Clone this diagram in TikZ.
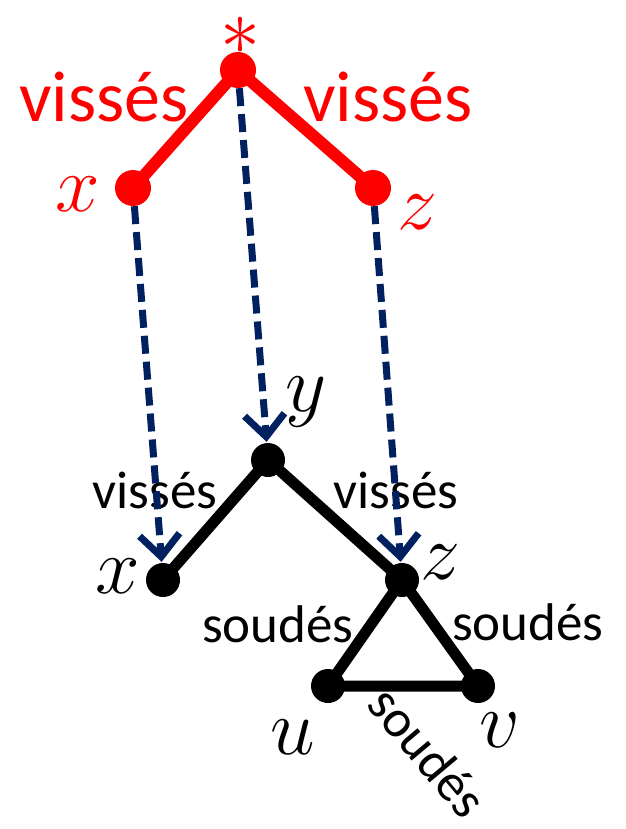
\RequirePackage{fix-cm}
\documentclass[tikz,border=0pt]{standalone}
\usepackage{fontspec}
\setmainfont{Carlito}
\usetikzlibrary{arrows.meta,positioning}
\definecolor{treeRed}{HTML}{FF0000}
\definecolor{mapNavy}{HTML}{002060}
\tikzset{
  redDot/.style={
    circle,
    fill=treeRed,
    inner sep=0pt,
    minimum size=36pt
  },
  blackDot/.style={
    circle,
    fill=black,
    inner sep=0pt,
    minimum size=34pt
  },
  redEdge/.style={
    line width=12pt,
    draw=treeRed
  },
  blackEdge/.style={
    line width=11pt,
    draw=black
  },
  mapArrow/.style={
    draw=mapNavy,
    line width=7pt,
    dash pattern=on 18pt off 8pt,
    -{Straight Barb[length=22pt,width=40pt,line width=7pt]},
    shorten >=1pt
  },
  bigLabel/.style={
    text=treeRed,
    inner sep=0pt,
    font=\fontsize{72}{72}\selectfont
  },
  edgeLabel/.style={
    inner sep=0pt,
    font=\fontsize{53}{53}\selectfont
  },
  varLabel/.style={
    inner sep=0pt,
    font=\fontsize{80}{80}\selectfont
  }
}

\begin{document}
\begin{tikzpicture}[x=1pt,y=-1pt]
  \useasboundingbox (0,0) rectangle (625,829);
  % upper tree
  \node[redDot] (rtop) at (238,70) {};
  \node[redDot] (rx) at (133,188) {};
  \node[redDot] (rz) at (373,188) {};
  \draw[redEdge] (rtop.center) -- (rx.center);
  \draw[redEdge] (rtop.center) -- (rz.center);
  \node[varLabel,text=treeRed] (rstar) at (240,36) {$\ast$};
  \node[bigLabel] (rvl) at (104,97) {vissés};
  \node[bigLabel] (rvr) at (388,97) {vissés};
  \node[varLabel,text=treeRed] (rxl) at (78,194) {$x$};
  \node[varLabel,text=treeRed] (rzl) at (417,212) {$z$};
  % lower tree
  \node[blackDot] (by) at (268,460) {};
  \node[blackDot] (bx) at (163,580) {};
  \node[blackDot] (bz) at (402,580) {};
  \node[blackDot] (bu) at (328,686) {};
  \node[blackDot] (bv) at (478,686) {};
  \draw[blackEdge] (by.center) -- (bx.center);
  \draw[blackEdge] (by.center) -- (bz.center);
  \draw[blackEdge,line join=round] (bz.center) -- (bu.center) -- (bv.center) -- cycle;
  \node[varLabel] (byl) at (306,402) {$y$};
  \node[varLabel] (bxl) at (118,576) {$x$};
  \node[varLabel] (bzl) at (440,562) {$z$};
  \node[varLabel] (bul) at (293,737) {$u$};
  \node[varLabel] (bvl) at (500,730) {$v$};
  \node[edgeLabel] (bvxl) at (155,490) {vissés};
  \node[edgeLabel] (bvzl) at (396,490) {vissés};
  \node[edgeLabel] (bsul) at (278,624) {soudés};
  \node[edgeLabel] (bsvl) at (528,622) {soudés};
  \node[edgeLabel,rotate=-50] (bsuv) at (428,752) {soudés};
  % mapping arrows
  \draw[mapArrow] (rx) -- (bx);
  \draw[mapArrow] (rtop) -- (by);
  \draw[mapArrow] (rz) -- (bz);
\end{tikzpicture}
\end{document}
